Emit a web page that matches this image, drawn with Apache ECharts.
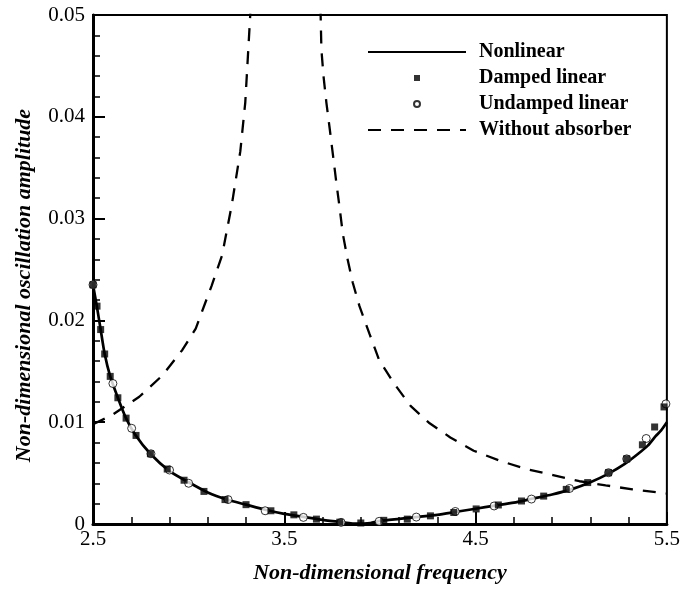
<!DOCTYPE html>
<html>
<head>
<meta charset="utf-8">
<script src="https://cdn.jsdelivr.net/npm/echarts@6/dist/echarts.min.js"></script>
<style>html,body{margin:0;padding:0;background:#fff}#chart{width:683px;height:589px}</style>
</head>
<body>
<div id="chart"></div>
<script>
// ---- data ----
var xTickLabels = ['2.5', '3.5', '4.5', '5.5'];
var yTickLabels = ['0', '0.01', '0.02', '0.03', '0.04', '0.05'];
var seriesNames = ['Nonlinear', 'Damped linear', 'Undamped linear', 'Without absorber'];

var nonlinear = [
  [2.5, 0.0235], [2.52, 0.0214], [2.54, 0.0191], [2.56, 0.0168], [2.59, 0.0145],
  [2.63, 0.0124], [2.67, 0.0105], [2.72, 0.0088], [2.8, 0.0069], [2.9, 0.0052],
  [3.0, 0.0041], [3.1, 0.0031], [3.2, 0.0024], [3.3, 0.0019], [3.4, 0.0014],
  [3.5, 0.0010], [3.6, 0.0007], [3.7, 0.0004], [3.8, 0.00018], [3.88, 0.00003],
  [3.95, 0.0001], [4.0, 0.0003], [4.1, 0.0005], [4.2, 0.0007], [4.3, 0.0009],
  [4.4, 0.0012], [4.5, 0.0015], [4.6, 0.0018], [4.7, 0.0021], [4.8, 0.0025],
  [4.9, 0.0029], [5.0, 0.0034], [5.1, 0.0041], [5.2, 0.0050], [5.28, 0.0059],
  [5.35, 0.0069], [5.4, 0.0077], [5.44, 0.0086], [5.47, 0.0092], [5.5, 0.0100]
];

var dampedLinear = [
  [2.5, 0.0235], [2.521, 0.0214], [2.54, 0.0191], [2.561, 0.0167], [2.59, 0.0145],
  [2.63, 0.0124], [2.673, 0.0104], [2.725, 0.0087], [2.80, 0.0069], [2.888, 0.0054],
  [2.976, 0.0043], [3.08, 0.0032], [3.19, 0.0024], [3.30, 0.0019], [3.43, 0.0013],
  [3.55, 0.0009], [3.668, 0.00048], [3.79, 0.00018], [3.90, 0.0001], [4.02, 0.00036],
  [4.143, 0.00048], [4.264, 0.0008], [4.386, 0.00113], [4.503, 0.00148], [4.619, 0.00187],
  [4.74, 0.00226], [4.856, 0.00274], [4.974, 0.0034], [5.086, 0.00407], [5.195, 0.00504],
  [5.29, 0.0064], [5.372, 0.00778], [5.436, 0.00953], [5.485, 0.0115]
];

var undampedLinear = [
  [2.5, 0.0235], [2.604, 0.0138], [2.702, 0.0094], [2.803, 0.0069], [2.9, 0.0053],
  [3.0, 0.0040], [3.206, 0.0024], [3.4, 0.0013], [3.6, 0.00065], [3.797, 0.00016],
  [3.996, 0.00026], [4.19, 0.00068], [4.394, 0.00123], [4.597, 0.00177], [4.792, 0.00245],
  [4.991, 0.00349], [5.195, 0.00504], [5.29, 0.0064], [5.392, 0.0084], [5.495, 0.0118]
];

var withoutAbsorber = [
  [2.5, 0.0098], [2.6, 0.0107], [2.742, 0.0125], [2.863, 0.0146], [2.967, 0.0171],
  [3.037, 0.0192], [3.12, 0.0234], [3.175, 0.0264], [3.226, 0.0314], [3.27, 0.0366],
  [3.296, 0.0414], [3.322, 0.0500], [3.326, 0.0530],
  null,
  [3.688, 0.0530], [3.69, 0.0500], [3.694, 0.0466], [3.705, 0.0440], [3.72, 0.0414],
  [3.737, 0.0389], [3.754, 0.0363], [3.771, 0.0337], [3.789, 0.0311], [3.806, 0.0285],
  [3.832, 0.0259], [3.858, 0.0237], [3.893, 0.0214], [3.945, 0.0187], [3.996, 0.0161],
  [4.074, 0.0138], [4.16, 0.0116], [4.256, 0.00995], [4.368, 0.0085], [4.49, 0.0072],
  [4.628, 0.0062], [4.766, 0.0054], [4.905, 0.0048], [5.043, 0.0042], [5.18, 0.0038],
  [5.32, 0.0034], [5.5, 0.0030]
];

// ---- chart ----
var FONT = 'Liberation Serif';
var noDot = {color: 'rgba(0,0,0,0)', borderWidth: 0};
var chart = echarts.init(document.getElementById('chart'), null, {renderer: 'canvas'});
chart.setOption({
  animation: false,
  backgroundColor: '#fff',
  grid: {left: 93, right: 14, top: 15, bottom: 58, show: true, borderColor: '#000', borderWidth: 2, backgroundColor: 'transparent'},
  legend: {
    data: [
      {name: seriesNames[0], itemStyle: noDot},
      {name: seriesNames[1], icon: 'path://M0,0 L1,0 L1,1 L0,1 Z'},
      {name: seriesNames[2]},
      {name: seriesNames[3], itemStyle: noDot}
    ],
    orient: 'vertical',
    left: 362,
    top: 37,
    itemWidth: 98,
    itemHeight: 6,
    itemGap: 6,
    symbolKeepAspect: true,
    selectedMode: false,
    textStyle: {fontFamily: FONT, fontWeight: 'bold', fontSize: 20, color: '#000', padding: [0, 0, 0, 8], lineHeight: 20}
  },
  xAxis: {
    type: 'value', min: 2.5, max: 5.5, interval: 1,
    name: 'Non-dimensional frequency', nameLocation: 'middle', nameGap: 38,
    nameTextStyle: {fontFamily: FONT, fontStyle: 'italic', fontWeight: 'bold', fontSize: 22, color: '#000'},
    axisLine: {lineStyle: {color: '#000', width: 3}},
    axisTick: {inside: true, length: 12, lineStyle: {color: '#000', width: 2}},
    minorTick: {show: true, splitNumber: 5, length: 7, lineStyle: {color: '#000', width: 1.5}},
    splitLine: {show: false},
    axisLabel: {fontFamily: FONT, fontSize: 21, color: '#000', margin: 5,
      formatter: function (v, i) { return xTickLabels[i]; }}
  },
  yAxis: {
    type: 'value', min: 0, max: 0.05, interval: 0.01,
    name: 'Non-dimensional oscillation amplitude', nameLocation: 'middle', nameGap: 58,
    nameTextStyle: {fontFamily: FONT, fontStyle: 'italic', fontWeight: 'bold', fontSize: 22, color: '#000', padding: [0, 32, 0, 0]},
    axisLine: {lineStyle: {color: '#000', width: 3}},
    axisTick: {inside: true, length: 12, lineStyle: {color: '#000', width: 2}},
    minorTick: {show: true, splitNumber: 5, length: 7, lineStyle: {color: '#000', width: 1.5}},
    splitLine: {show: false},
    axisLabel: {fontFamily: FONT, fontSize: 21, color: '#000', margin: 8,
      formatter: function (v, i) { return yTickLabels[i]; }}
  },
  series: [
    {name: seriesNames[0], type: 'line', data: nonlinear, symbol: 'none', smooth: 0.2,
     lineStyle: {color: '#000', width: 2.7}, itemStyle: {color: '#000'}, z: 3},
    {name: seriesNames[1], type: 'scatter', data: dampedLinear, symbol: 'rect', symbolSize: 7,
     itemStyle: {color: '#000'}, clip: false, z: 5},
    {name: seriesNames[2], type: 'scatter', data: undampedLinear, symbol: 'circle', symbolSize: 8,
     itemStyle: {color: '#fff', borderColor: '#000', borderWidth: 1}, clip: false, z: 4},
    {name: seriesNames[3], type: 'line', data: withoutAbsorber, symbol: 'none', connectNulls: false,
     lineStyle: {color: '#000', width: 2.3, type: [13, 10]}, itemStyle: {color: '#000'}, z: 2}
  ]
});
</script>
</body>
</html>
